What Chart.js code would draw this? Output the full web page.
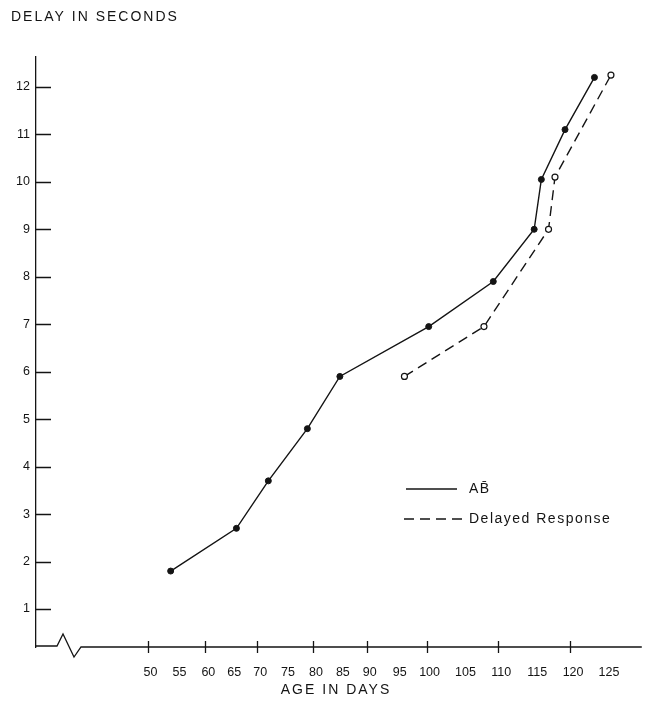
<!DOCTYPE html>
<html><head><meta charset="utf-8">
<script src="https://cdn.jsdelivr.net/npm/chart.js@4.4.1/dist/chart.umd.min.js"></script>
<style>html,body{margin:0;padding:0;background:#fff}#wrap{width:647px;height:706px}</style>
</head><body><div id="wrap"><canvas id="c" width="647" height="706"></canvas></div>
<script>
// ---- data ----
const AB_AGES = [54, 66, 72, 79, 85, 100.3, 109.3, 115, 116, 119.3, 123.4];
const AB_DELAYS = [1.8, 2.7, 3.7, 4.8, 5.9, 6.95, 7.9, 9.0, 10.05, 11.1, 12.2];
const DR_AGES = [96.3, 108, 117, 117.9, 125.7];
const DR_DELAYS = [5.9, 6.95, 9.0, 10.1, 12.25];
const X_TICK_LABELS = [50, 55, 60, 65, 70, 75, 80, 85, 90, 95, 100, 105, 110, 115, 120, 125];
const X_MAJOR_TICKS = [50, 60, 70, 80, 90, 100, 110, 120];
const Y_TICKS = [1, 2, 3, 4, 5, 6, 7, 8, 9, 10, 11, 12];
const SERIES_NAMES = ['A\u0042\u0304', 'Delayed Response'];
const Y_TITLE = 'DELAY IN SECONDS';
const X_TITLE = 'AGE IN DAYS';

// ---- axis transform: the printed age axis is not evenly spaced ----
const KNOT_AGES = [50, 60, 70, 80, 90, 100, 110, 120];
const KNOT_UNITS = [0, 58, 110, 166, 220, 280, 352, 424];
function ageToUnit(v) {
  const n = KNOT_AGES.length;
  if (v <= KNOT_AGES[0]) return KNOT_UNITS[0] + (v - KNOT_AGES[0]) * (KNOT_UNITS[1] - KNOT_UNITS[0]) / (KNOT_AGES[1] - KNOT_AGES[0]);
  if (v >= KNOT_AGES[n - 1]) return KNOT_UNITS[n - 1] + (v - KNOT_AGES[n - 1]) * (KNOT_UNITS[n - 1] - KNOT_UNITS[n - 2]) / (KNOT_AGES[n - 1] - KNOT_AGES[n - 2]);
  for (let i = 1; i < n; i++) {
    if (v <= KNOT_AGES[i]) {
      const f = (v - KNOT_AGES[i - 1]) / (KNOT_AGES[i] - KNOT_AGES[i - 1]);
      return KNOT_UNITS[i - 1] + f * (KNOT_UNITS[i] - KNOT_UNITS[i - 1]);
    }
  }
}
function unitToAge(u) {
  const n = KNOT_UNITS.length;
  if (u <= KNOT_UNITS[0]) return KNOT_AGES[0] + (u - KNOT_UNITS[0]) * (KNOT_AGES[1] - KNOT_AGES[0]) / (KNOT_UNITS[1] - KNOT_UNITS[0]);
  if (u >= KNOT_UNITS[n - 1]) return KNOT_AGES[n - 1] + (u - KNOT_UNITS[n - 1]) * (KNOT_AGES[n - 1] - KNOT_AGES[n - 2]) / (KNOT_UNITS[n - 1] - KNOT_UNITS[n - 2]);
  for (let i = 1; i < n; i++) {
    if (u <= KNOT_UNITS[i]) {
      const f = (u - KNOT_UNITS[i - 1]) / (KNOT_UNITS[i] - KNOT_UNITS[i - 1]);
      return KNOT_AGES[i - 1] + f * (KNOT_AGES[i] - KNOT_AGES[i - 1]);
    }
  }
}
class BrokenAgeScale extends Chart.LinearScale {
  static id = 'brokenAge';
  static defaults = Chart.LinearScale.defaults;
  buildTicks() { return X_TICK_LABELS.map(v => ({ value: v })); }
  getPixelForValue(value) {
    if (value === null || value === undefined || isNaN(value)) return NaN;
    const u0 = ageToUnit(this.min), u1 = ageToUnit(this.max);
    return this.getPixelForDecimal((ageToUnit(value) - u0) / (u1 - u0));
  }
  getValueForPixel(pixel) {
    const u0 = ageToUnit(this.min), u1 = ageToUnit(this.max);
    return unitToAge(u0 + this.getDecimalForPixel(pixel) * (u1 - u0));
  }
}
Chart.register(BrokenAgeScale);

const INK = '#141414';
const FONT = "'Liberation Sans', Arial, Helvetica, sans-serif";

const decorPlugin = {
  id: 'decor',
  afterDraw(chart) {
    const { ctx, chartArea: a, scales: { x, y } } = chart;
    ctx.save();
    ctx.strokeStyle = INK;
    ctx.lineWidth = 1.3;
    // x axis with break mark
    const b = a.bottom;
    ctx.beginPath();
    ctx.moveTo(a.left, b - 1);
    ctx.lineTo(a.left + 21, b - 1);
    ctx.lineTo(a.left + 27, b - 13);
    ctx.lineTo(a.left + 38, b + 10);
    ctx.lineTo(a.left + 45, b);
    ctx.lineTo(a.right, b);
    ctx.stroke();
    // x tick marks crossing the axis
    ctx.beginPath();
    X_MAJOR_TICKS.forEach(v => {
      const px = Math.round(x.getPixelForValue(v)) + 0.5;
      ctx.moveTo(px, b - 6);
      ctx.lineTo(px, b + 6);
    });
    ctx.stroke();
    // y tick marks inside the plot
    ctx.beginPath();
    Y_TICKS.forEach(v => {
      const py = Math.round(y.getPixelForValue(v)) + 0.5;
      ctx.moveTo(a.left, py);
      ctx.lineTo(a.left + 15, py);
    });
    ctx.stroke();
    // titles
    ctx.fillStyle = INK;
    ctx.font = '14px ' + FONT;
    ctx.letterSpacing = '2px';
    ctx.textBaseline = 'middle';
    ctx.textAlign = 'left';
    ctx.fillText(Y_TITLE, 11, 17);
    ctx.textAlign = 'center';
    ctx.fillText(X_TITLE, 336, 690);
    // legend
    ctx.letterSpacing = '1.5px';
    ctx.textAlign = 'left';
    ctx.beginPath();
    ctx.moveTo(406, 489); ctx.lineTo(457, 489);
    ctx.stroke();
    ctx.fillText(SERIES_NAMES[0], 469, 489);
    ctx.setLineDash([10, 6]);
    ctx.beginPath();
    ctx.moveTo(404, 519); ctx.lineTo(462, 519);
    ctx.stroke();
    ctx.setLineDash([]);
    ctx.fillText(SERIES_NAMES[1], 469, 519);
    ctx.restore();
  }
};

new Chart(document.getElementById('c'), {
  type: 'scatter',
  data: {
    datasets: [
      {
        label: SERIES_NAMES[0],
        data: AB_AGES.map((a, i) => ({ x: a, y: AB_DELAYS[i] })),
        showLine: true,
        borderColor: INK,
        borderWidth: 1.4,
        pointRadius: 3,
        pointBackgroundColor: INK,
        pointBorderColor: INK,
        pointBorderWidth: 1
      },
      {
        label: SERIES_NAMES[1],
        data: DR_AGES.map((a, i) => ({ x: a, y: DR_DELAYS[i] })),
        showLine: true,
        borderColor: INK,
        borderWidth: 1.4,
        borderDash: [10, 6],
        pointRadius: 3,
        pointBackgroundColor: '#fff',
        pointBorderColor: INK,
        pointBorderWidth: 1.2
      }
    ]
  },
  options: {
    responsive: false,
    animation: false,
    devicePixelRatio: 1,
    layout: { padding: { top: 57, right: 2, left: 0, bottom: 0 } },
    plugins: { legend: { display: false }, tooltip: { enabled: false }, title: { display: false } },
    scales: {
      x: {
        type: 'brokenAge',
        min: 30.7,
        max: 130,
        grid: { display: false, drawTicks: false },
        border: { display: false },
        ticks: {
          autoSkip: false,
          maxRotation: 0,
          padding: 18,
          labelOffset: 3,
          color: INK,
          font: { family: FONT, size: 12.5 },
          callback: v => String(v)
        },
        afterFit: s => { s.height = 59; }
      },
      y: {
        type: 'linear',
        min: 0.2,
        max: 12.63,
        grid: { display: false, drawTicks: false },
        border: { display: true, color: INK, width: 1.3 },
        afterBuildTicks: s => { s.ticks = Y_TICKS.map(v => ({ value: v })); },
        ticks: {
          padding: 6,
          color: INK,
          font: { family: FONT, size: 12.5 },
          callback: v => String(v)
        },
        afterFit: s => { s.width = 36; }
      }
    }
  },
  plugins: [decorPlugin]
});
</script>
</body></html>
